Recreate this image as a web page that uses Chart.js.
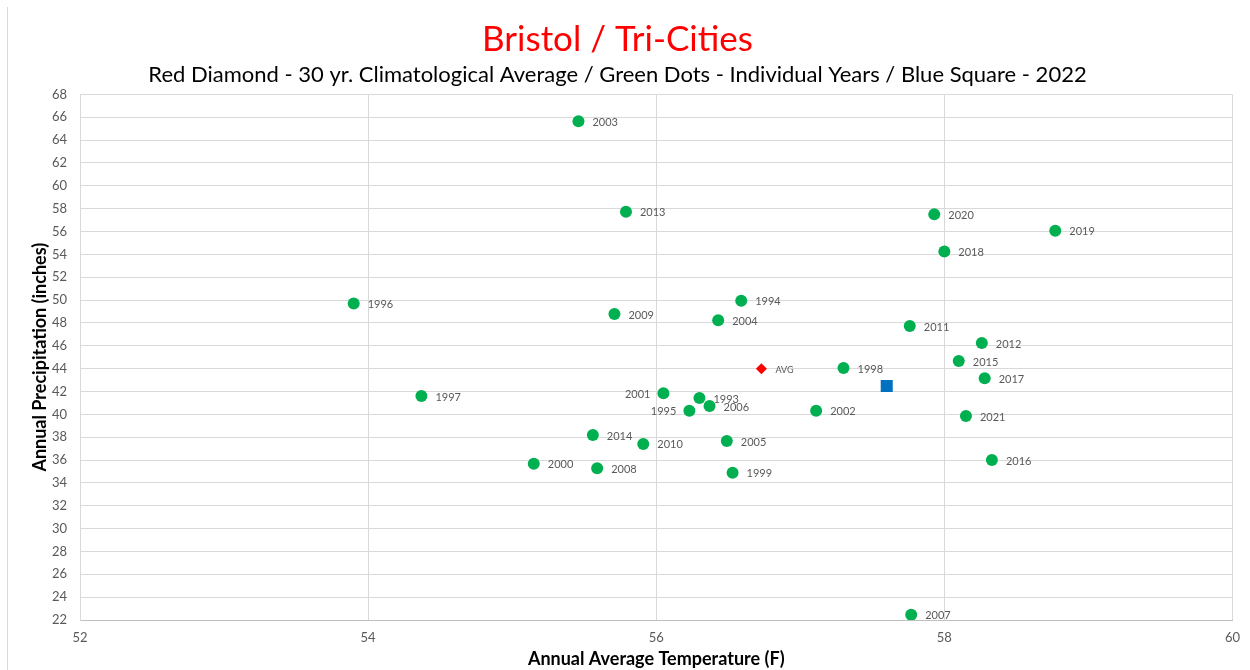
<!DOCTYPE html>
<html>
<head>
<meta charset="utf-8">
<script src="https://cdn.jsdelivr.net/npm/chart.js@4/dist/chart.umd.min.js"></script>
<style>
    body { margin: 0; background: #ffffff; }
    #wrap { position: relative; width: 1250px; height: 670px; }
    #edge { position: absolute; left: 7px; top: 7px; bottom: 0; border-left: 1px solid #d9d9d9; }
    canvas { position: absolute; left: 0; top: 0; }
</style>
</head>
<body>
<div id="wrap">
    <div id="edge"></div>
    <canvas id="climo" width="1250" height="670"></canvas>
</div>
<script>
// individual years (green dots)
const years = ['1993', '1994', '1995', '1996', '1997', '1998', '1999', '2000', '2001', '2002',
    '2003', '2004', '2005', '2006', '2007', '2008', '2009', '2010', '2011', '2012',
    '2013', '2014', '2015', '2016', '2017', '2018', '2019', '2020', '2021'];
const yearTemps = [56.30, 56.59, 56.23, 53.90, 54.37, 57.30, 56.53, 55.15, 56.05, 57.11,
    55.46, 56.43, 56.49, 56.37, 57.77, 55.59, 55.71, 55.91, 57.76, 58.26,
    55.79, 55.56, 58.10, 58.33, 58.28, 58.00, 58.77, 57.93, 58.15];
const yearPrecip = [41.43, 49.94, 40.32, 49.71, 41.60, 44.05, 34.89, 35.68, 41.84, 40.32,
    65.66, 48.23, 37.67, 40.73, 22.45, 35.28, 48.78, 37.41, 47.73, 46.24,
    57.73, 38.19, 44.67, 36.00, 43.15, 54.26, 56.07, 57.50, 39.85];
// labels drawn on the left side of the dot
const leftLabelYears = ['1995', '2001'];

// 30 yr. average (red diamond) and 2022 (blue square)
const avgTemp = [56.73];
const avgPrecip = [44.00];
const temp2022 = [57.60];
const precip2022 = [42.48];

// axis ranges
const xMin = 52, xMax = 60, xStep = 2;
const yMin = 22, yMax = 68, yStep = 2;

const FONT = 'Lato, "Open Sans", sans-serif';

const toPoints = (xs, ys) => xs.map((x, i) => ({ x: x, y: ys[i] }));

// 各点の横にラベルを描く
const pointLabels = {
    id: 'pointLabels',
    afterDatasetsDraw(chart) {
        const ctx = chart.ctx;
        ctx.save();
        chart.data.datasets.forEach((ds, di) => {
            if (!ds.pointTexts) {
                return;
            }
            const meta = chart.getDatasetMeta(di);
            ctx.font = ds.labelFont;
            ctx.fillStyle = '#595959';
            ctx.textBaseline = 'middle';
            meta.data.forEach((pt, i) => {
                const text = ds.pointTexts[i];
                if (leftLabelYears.includes(text)) {
                    ctx.textAlign = 'right';
                    ctx.fillText(text, pt.x - 13, pt.y + 1);
                } else {
                    ctx.textAlign = 'left';
                    ctx.fillText(text, pt.x + 14, pt.y + 1);
                }
            });
        });
        ctx.restore();
    }
};

new Chart(document.getElementById('climo'), {
    type: 'scatter',
    data: {
        datasets: [
            {
                label: 'Individual Years',
                data: toPoints(yearTemps, yearPrecip),
                pointTexts: years,
                labelFont: '11px ' + FONT,
                pointStyle: 'circle',
                pointRadius: 6,
                backgroundColor: '#00b050',
                borderWidth: 0,
            },
            {
                label: '30 yr. Average',
                data: toPoints(avgTemp, avgPrecip),
                pointTexts: ['AVG'],
                labelFont: '9px ' + FONT,
                pointStyle: 'rectRot',
                pointRadius: 5.5,
                backgroundColor: '#ff0000',
                borderWidth: 0,
            },
            {
                label: '2022',
                data: toPoints(temp2022, precip2022),
                pointStyle: 'rect',
                pointRadius: 8.5,
                backgroundColor: '#0070c0',
                borderWidth: 0,
            },
        ],
    },
    options: {
        responsive: false,
        animation: false,
        layout: {
            padding: { left: 0, right: 15, top: 0, bottom: 0 },
        },
        plugins: {
            legend: { display: false },
            tooltip: { enabled: false },
            title: {
                display: true,
                text: 'Bristol / Tri-Cities',
                color: '#ff0000',
                font: { family: FONT, size: 35, weight: 'normal' },
                padding: { top: 19, bottom: 0 },
            },
            subtitle: {
                display: true,
                text: 'Red Diamond - 30 yr. Climatological Average / Green Dots - Individual Years / Blue Square - 2022',
                color: '#000000',
                font: { family: FONT, size: 22, weight: 'normal' },
                padding: { top: 1, bottom: 6 },
            },
        },
        scales: {
            x: {
                type: 'linear',
                min: xMin,
                max: xMax,
                afterFit: scale => { scale.height = 50; },
                ticks: {
                    stepSize: xStep,
                    padding: 10,
                    color: '#595959',
                    font: { family: FONT, size: 13 },
                },
                grid: {
                    color: '#d9d9d9',
                    drawTicks: false,
                },
                border: { color: '#bfbfbf' },
                title: {
                    display: true,
                    text: 'Annual Average Temperature (F)',
                    color: '#000000',
                    font: { family: FONT, size: 18, weight: 'bold' },
                    padding: { top: 0, bottom: 0 },
                },
            },
            y: {
                type: 'linear',
                min: yMin,
                max: yMax,
                afterFit: scale => { scale.width = 80; },
                ticks: {
                    stepSize: yStep,
                    padding: 13,
                    color: '#595959',
                    font: { family: FONT, size: 13 },
                },
                grid: {
                    color: '#d9d9d9',
                    drawTicks: false,
                },
                border: { color: '#d9d9d9' },
                title: {
                    display: true,
                    text: 'Annual Precipitation (inches)',
                    color: '#000000',
                    font: { family: FONT, size: 18, weight: 'bold' },
                    padding: { top: 29, bottom: 0 },
                },
            },
        },
    },
    plugins: [pointLabels],
});
</script>
</body>
</html>
